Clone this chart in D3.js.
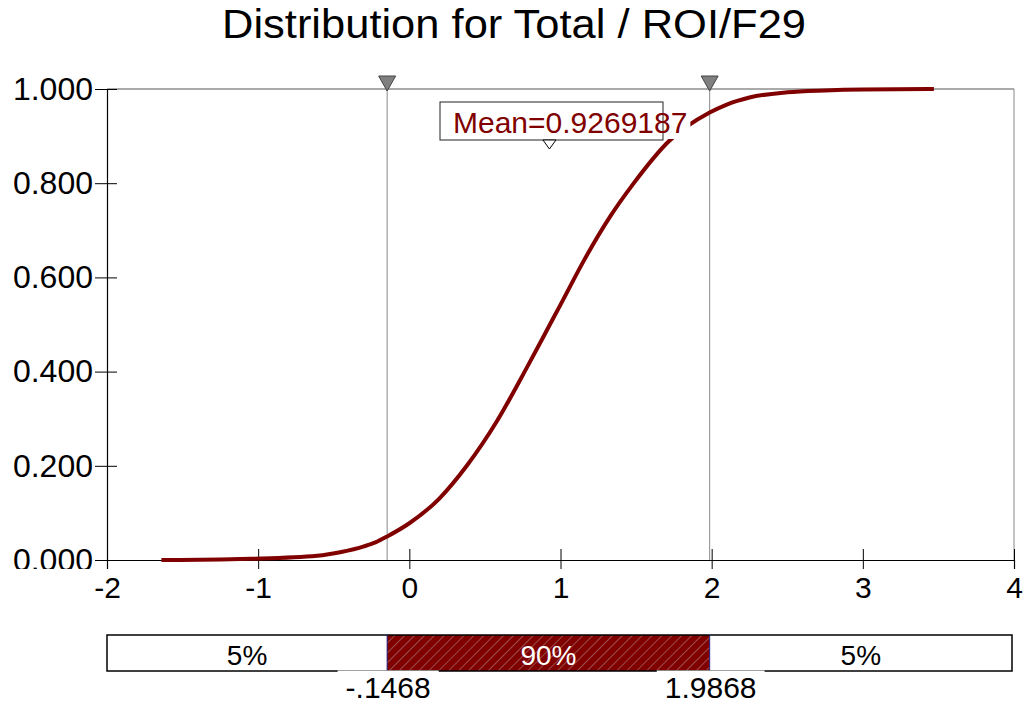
<!DOCTYPE html>
<html>
<head>
<meta charset="utf-8">
<script src="https://cdn.jsdelivr.net/npm/d3@7"></script>
<style>
  html, body { margin: 0; padding: 0; background: #fff; }
  svg { display: block; font-family: "Liberation Sans", Arial, sans-serif; }
</style>
</head>
<body>
<svg id="chart" width="1025" height="704"></svg>
<script>
// Cumulative distribution of Total / ROI/F29
const cdfX = [-1.64, -1.25, -1.05, -0.61, -0.45, -0.30, -0.22, -0.1468, 0.00, 0.20, 0.38, 0.58, 0.78, 0.93, 1.01, 1.15, 1.33, 1.48, 1.72, 1.9868, 2.10, 2.25, 2.50, 2.75, 3.00, 3.47];
const cdfP = [0.000, 0.001, 0.0025, 0.009, 0.017, 0.029, 0.038, 0.050, 0.078, 0.131, 0.200, 0.295, 0.410, 0.500, 0.548, 0.633, 0.730, 0.798, 0.890, 0.950, 0.967, 0.982, 0.993, 0.997, 0.999, 1.000];

const xTicks = [-2, -1, 0, 1, 2, 3, 4];
const yTicks = [0, 0.2, 0.4, 0.6, 0.8, 1.0];

const meanValue = 0.9269187;
const lowerCut = -0.1468;
const upperCut = 1.9868;
const lowerLabel = "-.1468";
const upperLabel = "1.9868";
const bandLabels = ["5%", "90%", "5%"];

const titleText = "Distribution for Total / ROI/F29";
const curveColor = "#800000";

const svg = d3.select("#chart");

const x = d3.scaleLinear().domain([-2, 4]).range([107, 1014]);
const y = d3.scaleLinear().domain([0, 1]).range([560, 89]);

// defs: hatch pattern and clip for y labels
const defs = svg.append("defs");
const pat = defs.append("pattern")
  .attr("id", "hatch")
  .attr("patternUnits", "userSpaceOnUse")
  .attr("width", 7).attr("height", 7)
  .attr("patternTransform", "rotate(45)");
pat.append("rect").attr("width", 7).attr("height", 7).attr("fill", curveColor);
pat.append("line").attr("x1", 0).attr("y1", 0).attr("x2", 0).attr("y2", 7)
  .attr("stroke", "#b59a9a").attr("stroke-width", 1);

defs.append("clipPath").attr("id", "yclip")
  .append("rect").attr("x", -200).attr("y", 60).attr("width", 400).attr("height", 509);

// title
svg.append("text")
  .attr("x", 514).attr("y", 38)
  .attr("text-anchor", "middle")
  .attr("font-size", 40)
  .attr("textLength", 584)
  .attr("lengthAdjust", "spacingAndGlyphs")
  .attr("fill", "#000")
  .text(titleText);

// plot frame: top and right edges
svg.append("line")
  .attr("x1", x(-2)).attr("x2", x(4)).attr("y1", y(1)).attr("y2", y(1))
  .attr("stroke", "#555").attr("stroke-width", 1);
svg.append("line")
  .attr("x1", x(4)).attr("x2", x(4)).attr("y1", y(1)).attr("y2", y(0))
  .attr("stroke", "#888").attr("stroke-width", 1);

// percentile marker lines
[lowerCut, upperCut].forEach(v => {
  svg.append("line")
    .attr("x1", x(v)).attr("x2", x(v)).attr("y1", y(1)).attr("y2", y(0))
    .attr("stroke", "#8a8a8a").attr("stroke-width", 1);
});

// y axis
const yAxis = svg.append("g")
  .attr("transform", `translate(${x(-2)},0)`)
  .attr("clip-path", "url(#yclip)")
  .call(d3.axisLeft(y).tickValues(yTicks).tickFormat(d3.format(".3f")).tickSize(12).tickPadding(3));
yAxis.select(".domain").attr("stroke", "#000").attr("stroke-width", 1.2);
yAxis.selectAll(".tick line").attr("x1", 10).attr("stroke", "#000");
yAxis.selectAll(".tick text")
  .attr("font-size", 32).attr("font-family", "Liberation Sans, Arial, sans-serif")
  .attr("fill", "#000").attr("x", -14);

// x axis
const xAxis = svg.append("g")
  .attr("transform", `translate(0,${y(0)})`)
  .call(d3.axisBottom(x).tickValues(xTicks).tickFormat(d => String(d)).tickSize(9));
xAxis.select(".domain").attr("stroke", "#000").attr("stroke-width", 1.2);
xAxis.selectAll(".tick line").attr("y1", -11).attr("stroke", "#000");
xAxis.selectAll(".tick text")
  .attr("font-size", 30).attr("font-family", "Liberation Sans, Arial, sans-serif")
  .attr("fill", "#000").attr("y", 17);

// CDF curve
const pts = cdfX.map((v, i) => [v, cdfP[i]]);
svg.append("path")
  .datum(pts)
  .attr("fill", "none")
  .attr("stroke", curveColor)
  .attr("stroke-width", 4)
  .attr("stroke-linejoin", "round")
  .attr("d", d3.line().x(d => x(d[0])).y(d => y(d[1])).curve(d3.curveMonotoneX));

// marker triangles at top
[lowerCut, upperCut].forEach(v => {
  const cx = x(v);
  svg.append("path")
    .attr("d", `M${cx - 8.5},76 L${cx + 8.5},76 L${cx},91 Z`)
    .attr("fill", "#808080").attr("stroke", "#444").attr("stroke-width", 1);
});

// mean label
const meanText = "Mean=" + meanValue.toFixed(7);
const mx = x(meanValue);
const lblGroup = svg.append("g");
const bg = lblGroup.append("rect").attr("fill", "#fff");
lblGroup.append("rect")
  .attr("x", 440).attr("y", 102).attr("width", 223).attr("height", 38)
  .attr("fill", "none").attr("stroke", "#222").attr("stroke-width", 1);
const mt = lblGroup.append("text")
  .attr("x", 453).attr("y", 133)
  .attr("font-size", 30).attr("fill", curveColor)
  .text(meanText);
const mb = mt.node().getBBox();
bg.attr("x", 441).attr("y", 103).attr("width", mb.x + mb.width - 441 + 3).attr("height", 36);
lblGroup.append("path")
  .attr("d", `M${mx - 6.5},140 L${mx + 6.5},140 L${mx},149 Z`)
  .attr("fill", "#fff").attr("stroke", "#000").attr("stroke-width", 1);

// percentile band bar
const barTop = 635, barH = 36;
const barLeft = x(-2), barRight = x(4) - 2;
const segs = [
  { a: barLeft, b: x(lowerCut), label: bandLabels[0], fill: "#fff", text: "#000" },
  { a: x(lowerCut), b: x(upperCut), label: bandLabels[1], fill: "url(#hatch)", text: "#fff" },
  { a: x(upperCut), b: barRight, label: bandLabels[2], fill: "#fff", text: "#000" }
];
const bar = svg.append("g");
bar.selectAll("rect.seg").data(segs).enter().append("rect")
  .attr("class", "seg")
  .attr("x", d => d.a).attr("y", barTop)
  .attr("width", d => d.b - d.a).attr("height", barH)
  .attr("fill", d => d.fill);
bar.append("rect")
  .attr("x", barLeft).attr("y", barTop).attr("width", barRight - barLeft).attr("height", barH)
  .attr("fill", "none").attr("stroke", "#000").attr("stroke-width", 1.5);
[lowerCut, upperCut].forEach(v => {
  bar.append("line")
    .attr("x1", x(v)).attr("x2", x(v)).attr("y1", barTop).attr("y2", barTop + barH)
    .attr("stroke", "#1a1a80").attr("stroke-width", 1);
});
bar.selectAll("text.seglbl").data(segs).enter().append("text")
  .attr("class", "seglbl")
  .attr("x", d => (d.a + d.b) / 2).attr("y", 665)
  .attr("text-anchor", "middle")
  .attr("font-size", 28)
  .attr("fill", d => d.text)
  .text(d => d.label);

// cut value labels below the bar
[[lowerCut, lowerLabel], [upperCut, upperLabel]].forEach(([v, t]) => {
  const g = svg.append("g");
  const r = g.append("rect").attr("fill", "#fff");
  const tx = g.append("text")
    .attr("x", x(v) + 1).attr("y", 698)
    .attr("text-anchor", "middle")
    .attr("font-size", 30).attr("fill", "#000")
    .text(t);
  const b = tx.node().getBBox();
  r.attr("x", b.x - 8).attr("y", barTop + barH - 0.5).attr("width", b.width + 16).attr("height", 40);
});
</script>
</body>
</html>
